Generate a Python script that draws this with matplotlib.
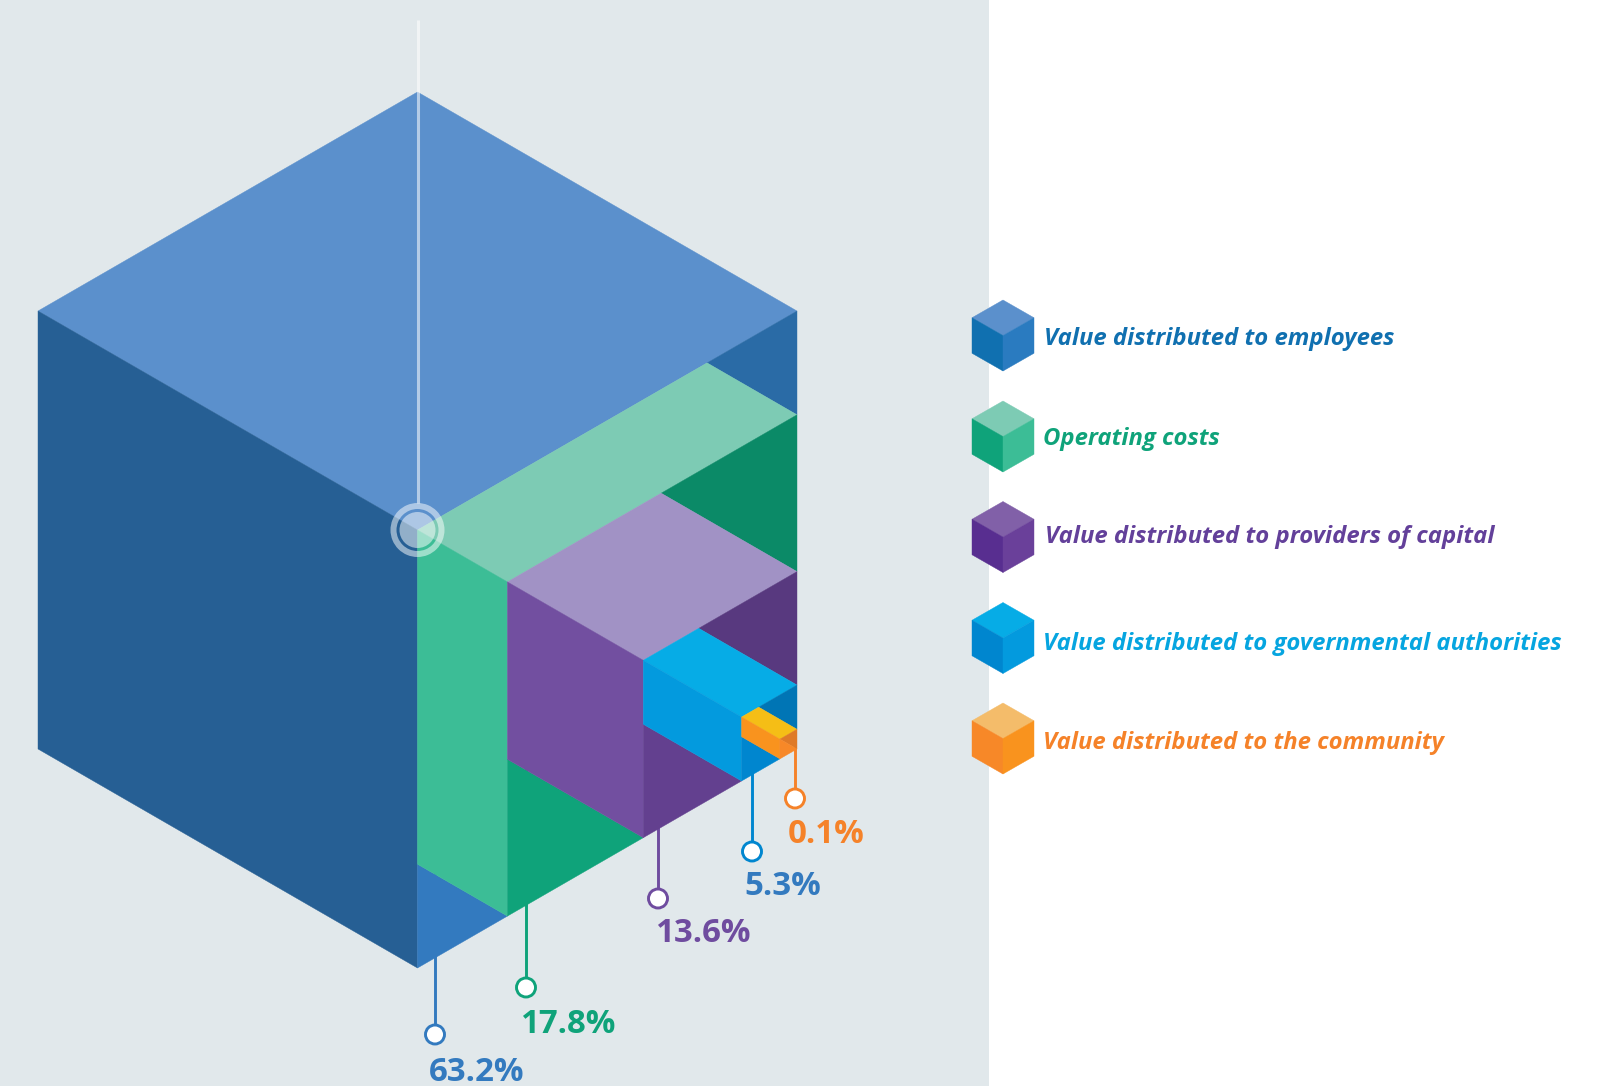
import matplotlib
matplotlib.use("Agg")
import matplotlib.pyplot as plt
from matplotlib.patches import Polygon, Circle, Wedge, Rectangle

# canvas in pixels
W, H = 1604, 1086
PANEL_W = 989
PANEL_BG = "#E1E8EB"

# nested cubes, outermost first
cube_names = ["employees", "operating", "capital", "government", "community"]
cube_sides = [1.0, 0.763, 0.405, 0.146, 0.045, 0.0]
cube_values = [63.2, 17.8, 13.6, 5.3, 0.1]

top_colors = ["#5B90CC", "#7DCBB4", "#A192C5", "#06ACE6", "#F5BE16"]
left_colors = ["#265F94", "#3CBD96", "#724FA0", "#039ADE", "#F9931E"]
upper_colors = ["#2A6BA6", "#0B8A67", "#58397F", "#0075B5", "#DF7A27"]
lower_colors = ["#337ABF", "#0FA37A", "#63408F", "#0086CF", "#F78828"]

# leaders under the cube
leader_x = [435, 526, 658, 752, 795]
leader_end_y = [1034.5, 987.5, 898.5, 851.5, 798.5]
leader_colors = ["#337ABF", "#0FA37A", "#6F4C9F", "#0086CF", "#F58229"]
label_x = [429, 520, 655, 744, 788]
label_y = [1081, 1033, 942, 895, 843]
label_colors = ["#337ABF", "#0FA37A", "#6F4C9F", "#337ABF", "#F58229"]

# legend
legend_labels = [
    "Value distributed to employees",
    "Operating costs",
    "Value distributed to providers of capital",
    "Value distributed to governmental authorities",
    "Value distributed to the community",
]
legend_text_colors = ["#1070B0", "#0FA37A", "#63409A", "#06A5E0", "#F58229"]
legend_y = [335.5, 436.5, 537, 638, 738.5]
legend_text_x = [1044, 1043, 1045, 1043, 1043]
legend_text_y = [345, 445, 543, 650, 749]
legend_top = ["#5B90CC", "#7DCBB4", "#8160A8", "#06ACE6", "#F4BC6A"]
legend_left = ["#1070B0", "#0FA37A", "#582E90", "#0086CF", "#F78828"]
legend_right = ["#2A7BC0", "#3CBD96", "#6A409A", "#039ADE", "#F9931E"]

# isometric frame of the big cube
CORNER_X, CORNER_Y = 797, 749
DX, DY, DZ = 379.5, 219, 438


def corners(side):
    bottom = (CORNER_X - DX * side, CORNER_Y + DY * side)
    front = (bottom[0], bottom[1] - DZ * side)
    right = (CORNER_X, CORNER_Y - DZ * side)
    return front, right, bottom


def poly(ax, pts, color, z=2):
    ax.add_patch(Polygon(pts, closed=True, facecolor=color, edgecolor=color, lw=0.3, zorder=z))


def draw_cubes(ax):
    # outer shell
    front, right, bottom = corners(cube_sides[0])
    back = (front[0], front[1] - DZ)
    far_left = (front[0] - DX, front[1] - DY)
    poly(ax, [far_left, back, right, front], top_colors[0])
    poly(ax, [far_left, front, bottom, (far_left[0], far_left[1] + DZ)], left_colors[0])

    # each block sits in the opening of the one before it
    for i in range(len(cube_values)):
        pf, pr, pb = corners(cube_sides[i])
        cf, cr, cb = corners(cube_sides[i + 1])
        step = (cf[0] - pf[0], cf[1] - pf[1])
        back_edge = (cr[0] - step[0], cr[1] - step[1])
        low_edge = (cb[0] - step[0], cb[1] - step[1])
        poly(ax, [back_edge, pr, cr], upper_colors[i], 2 + i)
        poly(ax, [low_edge, cb, pb], lower_colors[i], 2 + i)
        if i + 1 < len(cube_values):
            poly(ax, [pf, back_edge, cr, cf], top_colors[i + 1], 3 + i)
            poly(ax, [pf, cf, cb, low_edge], left_colors[i + 1], 3 + i)


def draw_legend_cube(ax, cy, top, left, right):
    cx, hw, dy, side = 1003, 31, 17.75, 35.5
    poly(ax, [(cx - hw, cy - dy), (cx, cy - 2 * dy), (cx + hw, cy - dy), (cx, cy)], top)
    poly(ax, [(cx - hw, cy - dy), (cx, cy), (cx, cy + side), (cx - hw, cy + dy)], left)
    poly(ax, [(cx, cy), (cx + hw, cy - dy), (cx + hw, cy + dy), (cx, cy + side)], right)


plt.rcParams["font.family"] = ["Open Sans", "DejaVu Sans"]
fig = plt.figure(figsize=(W / 100, H / 100), dpi=100, facecolor="white")
ax = fig.add_axes([0, 0, 1, 1])
ax.set_xlim(0, W)
ax.set_ylim(H, 0)
ax.axis("off")

ax.add_patch(Rectangle((0, 0), PANEL_W, H, facecolor=PANEL_BG, edgecolor="none", zorder=0))

# leaders go under the cube so they stop at its edge
for x, y_end, c in zip(leader_x, leader_end_y, leader_colors):
    ax.plot([x, x], [CORNER_Y - 5, y_end], color=c, lw=2.1, zorder=1, solid_capstyle="butt")
    ax.add_patch(Circle((x, y_end), 9.5, facecolor="white", edgecolor=c, lw=2.1, zorder=1.5))

draw_cubes(ax)

# marker on the front corner of the big cube
fx, fy = corners(cube_sides[0])[0]
ax.plot([fx, fx], [20, fy - 27], color="white", lw=2.2, alpha=0.55, zorder=20, solid_capstyle="butt")
ax.add_patch(Circle((fx, fy), 18, facecolor="white", edgecolor="none", alpha=0.5, zorder=20))
ax.add_patch(Wedge((fx, fy), 27, 0, 360, width=6, facecolor="white", edgecolor="none", alpha=0.5, zorder=20))

for v, x, y, c in zip(cube_values, label_x, label_y, label_colors):
    ax.text(x, y, f"{v}%", color=c, fontsize=23.8, fontweight="bold", ha="left", va="baseline", zorder=25)

for i, label in enumerate(legend_labels):
    draw_legend_cube(ax, legend_y[i], legend_top[i], legend_left[i], legend_right[i])
    ax.text(legend_text_x[i], legend_text_y[i], label, color=legend_text_colors[i], fontsize=17.2,
            fontweight="bold", fontstyle="italic", ha="left", va="baseline", zorder=25)

fig.savefig("out.png", dpi=100, facecolor="white")
